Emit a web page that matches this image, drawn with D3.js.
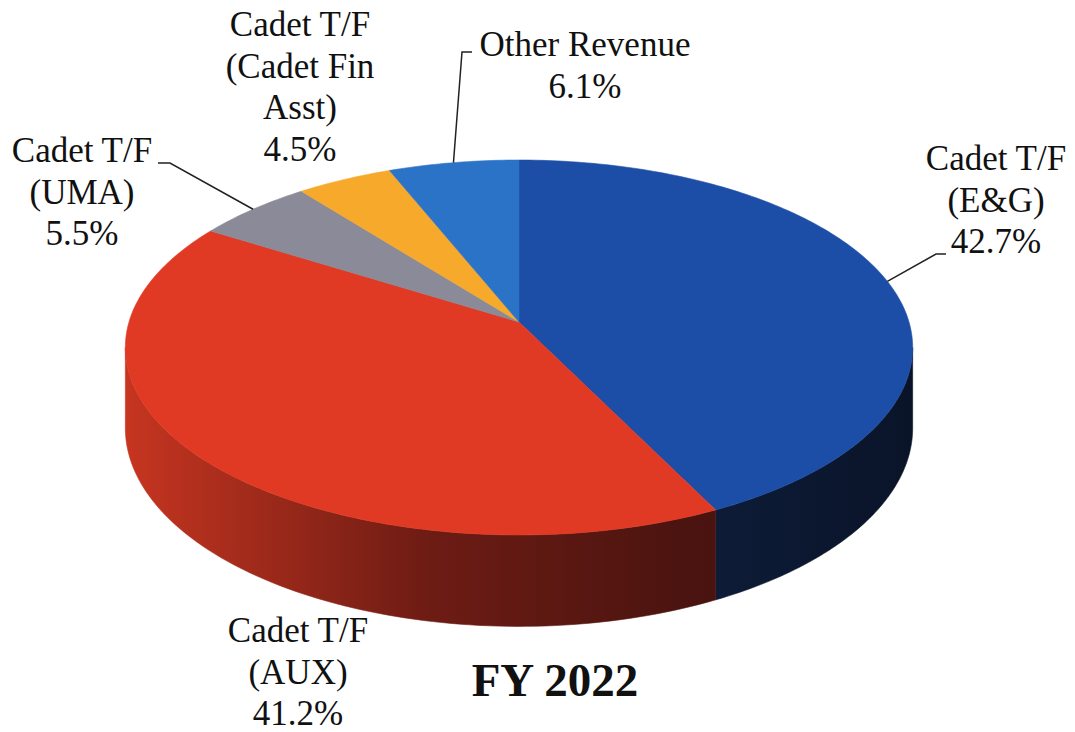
<!DOCTYPE html>
<html>
<head>
<meta charset="utf-8">
<script src="https://cdn.jsdelivr.net/npm/d3@7"></script>
<style>
  body { margin: 0; background: #fff; }
  text { font-family: "Liberation Serif", "Times New Roman", serif; fill: #111; }
</style>
</head>
<body>
<script>
// chart data
var categories = ["Cadet T/F (E&G)", "Cadet T/F (AUX)", "Cadet T/F (UMA)", "Cadet T/F (Cadet Fin Asst)", "Other Revenue"];
var shares = [42.7, 41.2, 5.5, 4.5, 6.1];
var labelLines = [["Cadet T/F", "(E&G)"], ["Cadet T/F", "(AUX)"], ["Cadet T/F", "(UMA)"], ["Cadet T/F", "(Cadet Fin", "Asst)"], ["Other Revenue"]];
var title = "FY 2022";

var topColors = ["#1d4ea7", "#e03a24", "#8a8a99", "#f6a92a", "#2a73c7"];
// side wall gradient stops (light at left -> dark at right)
var sideStops = [
  [["0%", "#1a3c80"], ["70%", "#0e1d3a"], ["100%", "#0a1429"]],
  [["0%", "#c53520"], ["38%", "#6e1c14"], ["70%", "#4c1410"], ["100%", "#3a0e0c"]],
  [["0%", "#77778a"], ["100%", "#3a3a44"]],
  [["0%", "#c88a20"], ["100%", "#6a4a10"]],
  [["0%", "#2060a8"], ["100%", "#10305a"]]
];

// label layout (text centre, first baseline) and leader elbows
var labelPos = [[996, 170], [298, 642], [82, 162], [300, 36], [585, 56]];
var leaders = [[[946, 254], [936, 254]], null, [[158, 163], [170, 163]], null, [[472, 52], [462, 52]]];

var width = 1075, height = 732;
// perspective disc: screen = centre + (A*X, -B*Z) / (1 + k*Z), Z = 1 at the back
var cx = 519, cy = 322, A = 390, B = 184, k = 0.136, D = 79;

function proj(a, low) {
  var X = Math.sin(a), Z = Math.cos(a), s = 1 / (1 + k * Z);
  return [cx + A * X * s, cy - B * Z * s + (low ? D * s : 0)];
}

var svg = d3.select("body").append("svg").attr("width", width).attr("height", height);
var defs = svg.append("defs");

var pie = d3.pie().sort(null).value(function(d) { return d; });
var arcs = pie(shares);

arcs.forEach(function(d, i) {
  var g = defs.append("linearGradient").attr("id", "side" + i)
    .attr("gradientUnits", "userSpaceOnUse")
    .attr("x1", cx - A).attr("x2", cx + A).attr("y1", 0).attr("y2", 0);
  sideStops[i].forEach(function(s) {
    g.append("stop").attr("offset", s[0]).attr("stop-color", s[1]);
  });
});

var line = d3.line();

// outer walls, between the two silhouette angles
var aRight = Math.acos(-k), aLeft = 2 * Math.PI - Math.acos(-k);
var walls = svg.append("g").attr("class", "walls");
arcs.forEach(function(d, i) {
  var a0 = Math.max(d.startAngle, aRight), a1 = Math.min(d.endAngle, aLeft);
  if (a0 >= a1) return;
  var n = 90, topPts = [], botPts = [];
  for (var j = 0; j <= n; j++) {
    var a = a0 + (a1 - a0) * j / n;
    topPts.push(proj(a));
    botPts.push(proj(a, true));
  }
  walls.append("path")
    .attr("d", line(topPts.concat(botPts.reverse())) + "Z")
    .attr("fill", "url(#side" + i + ")")
    .attr("stroke", "url(#side" + i + ")").attr("stroke-width", 0.6);
});

// top faces
var tops = svg.append("g").attr("class", "tops");
arcs.forEach(function(d, i) {
  var n = Math.max(6, Math.ceil((d.endAngle - d.startAngle) * 60)), pts = [[cx, cy]];
  for (var j = 0; j <= n; j++) pts.push(proj(d.startAngle + (d.endAngle - d.startAngle) * j / n));
  tops.append("path")
    .attr("d", line(pts) + "Z")
    .attr("fill", topColors[i])
    .attr("stroke", topColors[i]).attr("stroke-width", 0.6);
});

// leader lines
var fmt = d3.format(".1f");
arcs.forEach(function(d, i) {
  if (!leaders[i]) return;
  var mid = (d.startAngle + d.endAngle) / 2;
  var p = leaders[i].concat([proj(mid)]);
  svg.append("path").attr("d", line(p)).attr("fill", "none")
    .attr("stroke", "#222").attr("stroke-width", 1.5);
});

// labels
arcs.forEach(function(d, i) {
  var lines = labelLines[i].concat([fmt(shares[i]) + "%"]);
  var t = svg.append("text")
    .attr("x", labelPos[i][0]).attr("y", labelPos[i][1])
    .attr("text-anchor", "middle").style("font-size", "35px");
  lines.forEach(function(s, j) {
    t.append("tspan").attr("x", labelPos[i][0]).attr("dy", j === 0 ? 0 : 41.5).text(s);
  });
});

svg.append("text").attr("x", 555).attr("y", 696)
  .attr("text-anchor", "middle")
  .style("font-size", "47px").style("font-weight", "bold")
  .text(title);
</script>
</body>
</html>
